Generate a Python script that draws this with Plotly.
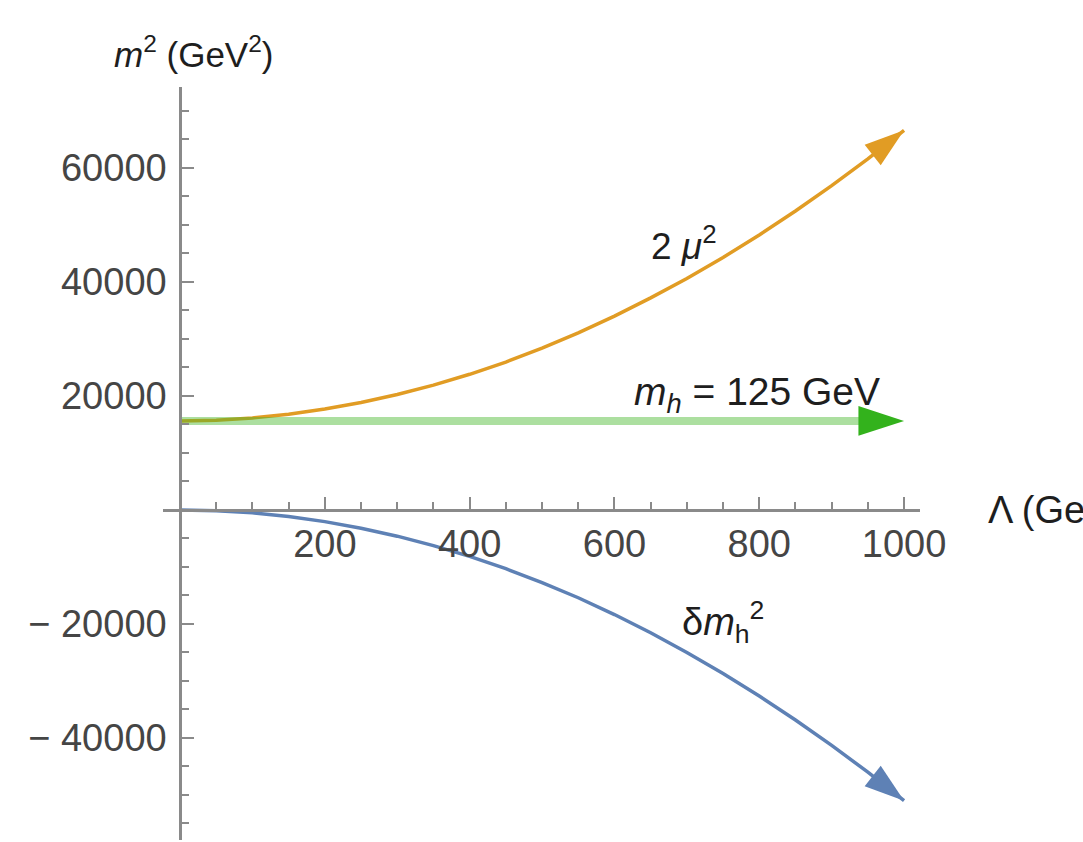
import plotly.graph_objects as go

# Cutoff scale Lambda (GeV)
lam = [0, 50, 100, 150, 200, 250, 300, 350, 400, 450, 500,
       550, 600, 650, 700, 750, 800, 850, 900, 950, 1000]
# 2 mu^2 (GeV^2)
two_mu2 = [15600, 15750, 16150, 16800, 17700, 18850, 20250, 21900, 23800, 25950, 28400,
           31050, 34000, 37200, 40600, 44300, 48250, 52450, 56900, 61600, 66600]
# m_h^2 = 125^2 GeV^2
mh2 = [15625] * len(lam)
# delta m_h^2 (GeV^2)
dmh2 = [0, -130, -500, -1150, -2050, -3200, -4600, -6250, -8150, -10300, -12750,
        -15400, -18350, -21550, -25000, -28700, -32650, -36850, -41300, -46000, -51000]

x_ticks = [200, 400, 600, 800, 1000]
x_ticktext = ["200", "400", "600", "800", "1000"]
y_ticks = [-40000, -20000, 20000, 40000, 60000]
y_ticktext = ["\u2212 40000", "\u2212 20000", "20000", "40000", "60000"]

X_RANGE = [-23.5, 1022]
Y_RANGE = [-57900, 74200]

FONT = "Liberation Sans, Arial, sans-serif"
TICKCOL = "#454545"
AXCOL = "#8a8a8a"

def arrow_sizes(n, size):
    return [0] * (n - 1) + [size]

fig = go.Figure()

fig.add_trace(go.Scatter(
    x=lam, y=two_mu2, mode="lines+markers",
    line=dict(color="#E19C24", width=3.5),
    marker=dict(symbol="arrow", size=arrow_sizes(len(lam), 42), angleref="previous",
                color="#E19C24", opacity=1, line=dict(width=0)),
    hoverinfo="skip", showlegend=False))

fig.add_trace(go.Scatter(
    x=lam, y=dmh2, mode="lines+markers",
    line=dict(color="#5E81B5", width=3.5),
    marker=dict(symbol="arrow", size=arrow_sizes(len(lam), 42), angleref="previous",
                color="#5E81B5", opacity=1, line=dict(width=0)),
    hoverinfo="skip", showlegend=False))

fig.add_trace(go.Scatter(
    x=lam, y=mh2, mode="lines+markers",
    line=dict(color="rgba(70,185,45,0.45)", width=8),
    marker=dict(symbol="arrow", size=arrow_sizes(len(lam), 48), angleref="previous",
                color="#33b21c", opacity=1, line=dict(width=0)),
    hoverinfo="skip", showlegend=False))

x_pos = (0 - Y_RANGE[0]) / (Y_RANGE[1] - Y_RANGE[0])
y_pos = (0 - X_RANGE[0]) / (X_RANGE[1] - X_RANGE[0])

fig.update_layout(
    width=1083, height=842,
    margin=dict(l=163, r=163, t=87, b=2),
    paper_bgcolor="white", plot_bgcolor="white",
    xaxis=dict(range=X_RANGE, anchor="free", position=x_pos,
               showgrid=False, zeroline=False,
               showline=True, linecolor=AXCOL, linewidth=2.5,
               tickmode="array", tickvals=x_ticks, ticktext=x_ticktext,
               ticks="inside", ticklen=12, tickwidth=1.5, tickcolor=AXCOL,
               ticklabelstandoff=0,
               tickfont=dict(family=FONT, size=38, color=TICKCOL),
               minor=dict(tickmode="linear", tick0=0, dtick=50, ticks="inside",
                          ticklen=7, tickwidth=1.5, tickcolor=AXCOL, showgrid=False)),
    yaxis=dict(range=Y_RANGE, anchor="free", position=y_pos,
               showgrid=False, zeroline=False,
               showline=True, linecolor=AXCOL, linewidth=2.5,
               tickmode="array", tickvals=y_ticks, ticktext=y_ticktext,
               ticks="inside", ticklen=12, tickwidth=1.5, tickcolor=AXCOL,
               ticklabelstandoff=5,
               tickfont=dict(family=FONT, size=38, color=TICKCOL),
               minor=dict(tickmode="linear", tick0=0, dtick=5000, ticks="inside",
                          ticklen=7, tickwidth=1.5, tickcolor=AXCOL, showgrid=False)),
)

TXT = "#1e1e1e"
fig.add_annotation(x=696, y=46800, xref="x", yref="y",
                   text="2 <i>\u03bc</i><sup>2</sup>", showarrow=False,
                   font=dict(family=FONT, size=37, color=TXT),
                   xanchor="center", yanchor="middle")
fig.add_annotation(x=797, y=20300, xref="x", yref="y",
                   text="<i>m</i><sub><i>h</i></sub> = 125 GeV", showarrow=False,
                   font=dict(family=FONT, size=39, color=TXT),
                   xanchor="center", yanchor="middle")
fig.add_annotation(x=750, y=-19650, xref="x", yref="y",
                   text="\u03b4<i>m</i><sub>h</sub><sup>2</sup>", showarrow=False,
                   font=dict(family=FONT, size=38, color=TXT),
                   xanchor="center", yanchor="middle")
fig.add_annotation(x=(194 - 163) / 757, y=(840 - 52) / 753, xref="paper", yref="paper",
                   text="<i>m</i><sup>2</sup> (GeV<sup>2</sup>)", showarrow=False,
                   font=dict(family=FONT, size=35, color=TXT),
                   xanchor="center", yanchor="middle")
fig.add_annotation(x=(986 - 163) / 757, y=x_pos, xref="paper", yref="paper",
                   text="\u039b (GeV)", showarrow=False,
                   font=dict(family=FONT, size=38, color=TXT),
                   xanchor="left", yanchor="middle")

fig.write_html("out.html")
